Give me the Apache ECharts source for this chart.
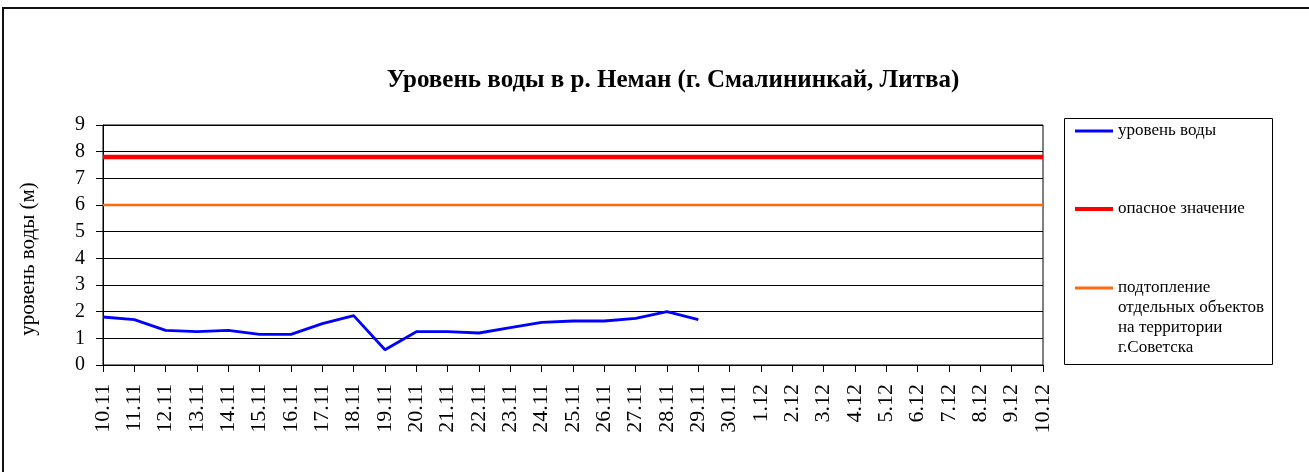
<!DOCTYPE html>
<html>
<head>
<meta charset="utf-8">
<script src="https://cdn.jsdelivr.net/npm/echarts@6/dist/echarts.min.js"></script>
<style>
html,body{margin:0;padding:0;background:#fff;}
#chart{width:1309px;height:472px;}
</style>
</head>
<body>
<div id="chart"></div>
<script>
var categories = ['10.11','11.11','12.11','13.11','14.11','15.11','16.11','17.11','18.11','19.11',
  '20.11','21.11','22.11','23.11','24.11','25.11','26.11','27.11','28.11','29.11','30.11',
  '1.12','2.12','3.12','4.12','5.12','6.12','7.12','8.12','9.12','10.12'];
var waterLevel = [1.8,1.7,1.3,1.25,1.3,1.15,1.15,1.55,1.85,0.57,1.25,1.25,1.2,1.4,1.6,1.65,1.65,1.75,2.0,1.7];
var dangerLevel = [7.8,7.8,7.8,7.8,7.8,7.8,7.8,7.8,7.8,7.8,7.8,7.8,7.8,7.8,7.8,7.8,7.8,7.8,7.8,7.8,7.8,7.8,7.8,7.8,7.8,7.8,7.8,7.8,7.8,7.8,7.8];
var floodLevel = [6,6,6,6,6,6,6,6,6,6,6,6,6,6,6,6,6,6,6,6,6,6,6,6,6,6,6,6,6,6,6];
var yTicks = [0,1,2,3,4,5,6,7,8,9];
var seriesNames = ['уровень воды', 'опасное значение', 'подтопление\nотдельных объектов\nна территории\nг.Советска'];

var FONT = '"Liberation Serif", "DejaVu Serif", serif';
var chart = echarts.init(document.getElementById('chart'));
var legendText = {fontFamily: FONT, fontSize: 17, color: '#000', lineHeight: 20};
function legendFor(i, top, h, fmt) {
  return {data: [seriesNames[i]], left: 1075, top: top, padding: 0, icon: 'rect',
    itemWidth: 38, itemHeight: h, itemGap: 0, itemTextGap: 6, textStyle: legendText,
    selectedMode: false, formatter: fmt};
}
chart.setOption({
  animation: false,
  backgroundColor: '#fff',
  title: {
    text: 'Уровень воды в р. Неман (г. Смалининкай, Литва)',
    left: 668, textAlign: 'center', top: 63,
    textStyle: {fontFamily: FONT, fontSize: 25, fontWeight: 'bold', color: '#000'}
  },
  graphic: [
    {type: 'rect', shape: {x: 3, y: 8, width: 1340, height: 500}, style: {fill: 'none', stroke: '#111', lineWidth: 2}, silent: true},
    {type: 'rect', shape: {x: 1064.5, y: 118.5, width: 208, height: 246}, style: {fill: '#fff', stroke: '#000', lineWidth: 1}, silent: true, z: -1}
  ],
  legend: [
    legendFor(0, 121, 3),
    legendFor(1, 199, 4),
    legendFor(2, 218, 3, function (n) { return '\n\n\n' + n; })
  ],
  grid: {left: 103, right: 266, top: 125, bottom: 107, show: true, borderColor: '#000', borderWidth: 1, backgroundColor: '#fff'},
  xAxis: {
    type: 'category', data: categories, boundaryGap: false,
    axisLine: {lineStyle: {color: '#000', width: 1}},
    axisTick: {show: true, length: 7, interval: 0, lineStyle: {color: '#000'}},
    axisLabel: {interval: 0, rotate: 90, margin: 19, fontFamily: FONT, fontSize: 22, color: '#000'},
    splitLine: {show: false}
  },
  yAxis: {
    type: 'value', min: yTicks[0], max: yTicks[yTicks.length - 1], interval: 1,
    name: 'уровень воды (м)', nameLocation: 'middle', nameRotate: 90, nameGap: 64,
    nameTextStyle: {fontFamily: FONT, fontSize: 21, color: '#000', padding: [0, 28, 0, 0]},
    axisLine: {show: true, lineStyle: {color: '#000', width: 1}},
    axisTick: {show: true, length: 7, lineStyle: {color: '#000'}},
    axisLabel: {margin: 18, fontFamily: FONT, fontSize: 20, color: '#000'},
    splitLine: {show: true, lineStyle: {color: '#000', width: 1}}
  },
  series: [
    {name: seriesNames[0], type: 'line', data: waterLevel, symbol: 'none', lineStyle: {color: '#0000FF', width: 2.8}, itemStyle: {color: '#0000FF'}, z: 5},
    {name: seriesNames[1], type: 'line', data: dangerLevel, symbol: 'none', lineStyle: {color: '#FF0000', width: 4.5}, itemStyle: {color: '#FF0000'}, z: 4},
    {name: seriesNames[2], type: 'line', data: floodLevel, symbol: 'none', lineStyle: {color: '#FF6A10', width: 2.5}, itemStyle: {color: '#FF6A10'}, z: 3}
  ]
});
</script>
</body>
</html>
